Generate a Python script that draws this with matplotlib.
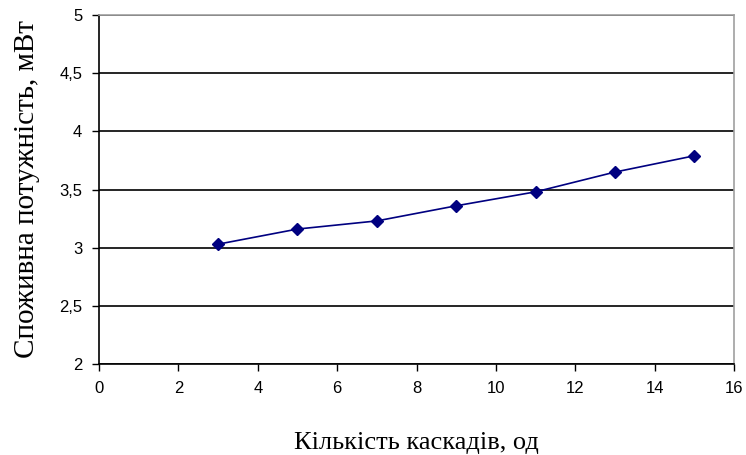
import matplotlib
matplotlib.use("Agg")
import matplotlib.pyplot as plt

cascades = [3, 5, 7, 9, 11, 13, 15]
power = [3.03, 3.16, 3.23, 3.36, 3.48, 3.65, 3.79]
x_ticks = [0, 2, 4, 6, 8, 10, 12, 14, 16]
y_ticks = [2, 2.5, 3, 3.5, 4, 4.5, 5]
y_tick_labels = ["2", "2,5", "3", "3,5", "4", "4,5", "5"]

fig = plt.figure(figsize=(7.46, 4.55), dpi=100)
ax = fig.add_axes([0.1327, 0.2, 0.984 - 0.1327, 0.967 - 0.2])

ax.plot(cascades, power, color="#000080", linewidth=1.2, marker="D",
        markersize=6, markerfacecolor="#000080", markeredgecolor="#000080", zorder=3)

ax.set_xlim(0, 16)
ax.set_ylim(2, 5)
ax.set_xticks(x_ticks)
ax.set_xticklabels([str(t) for t in x_ticks], family="Liberation Sans", fontsize=12)
ax.set_yticks(y_ticks)
ax.set_yticklabels(y_tick_labels, family="Liberation Sans", fontsize=12)
ax.yaxis.grid(True, color="black", linewidth=1.2)
ax.set_axisbelow(True)

for side in ["top", "right"]:
    ax.spines[side].set_color("#a0a0a0")
    ax.spines[side].set_linewidth(1.2)
for side in ["left", "bottom"]:
    ax.spines[side].set_color("black")
    ax.spines[side].set_linewidth(1.2)

ax.tick_params(axis="both", direction="out", length=5, width=1, colors="black", pad=7)

ax.set_xlabel("Кількість каскадів, од", family="Liberation Serif", fontsize=19, labelpad=26)
ax.set_ylabel("Споживна потужність, мВт", family="Liberation Serif", fontsize=21, labelpad=14)

fig.savefig("out.png", dpi=100)
